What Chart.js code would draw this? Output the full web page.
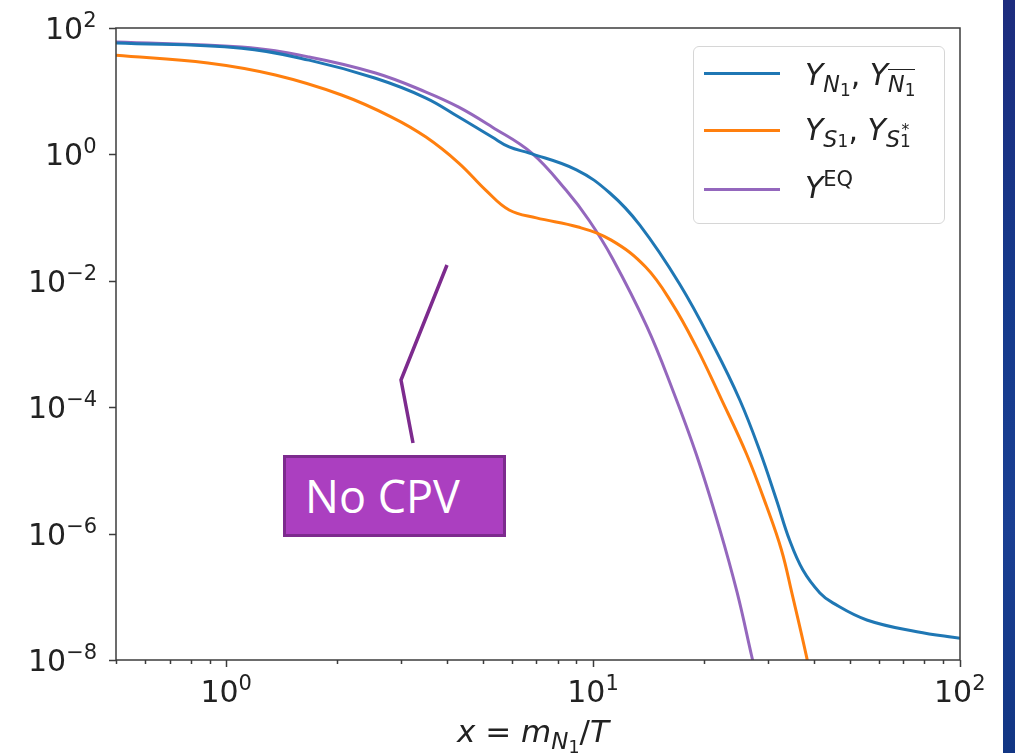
<!DOCTYPE html>
<html>
<head>
<meta charset="utf-8">
<script src="https://cdn.jsdelivr.net/npm/chart.js@4"></script>
<style>
    body { margin: 0; background: #fff; }
    #wrap { position: relative; width: 1015px; height: 753px; overflow: hidden; background: #fff; }
    #strip { position: absolute; left: 1003px; top: 0; width: 12px; height: 753px;
        background: linear-gradient(180deg, #1d2c7e 0%, #153a8c 40%, #1a3f93 70%, #123684 100%); }
    canvas { position: absolute; left: 0; top: 0; }
    #legend { position: absolute; left: 693px; top: 46px; width: 252px; height: 178px;
        border: 1.5px solid #d6d6d6; border-radius: 6px; background: rgba(255,255,255,0.85); box-sizing: border-box; }
    .swatch { position: absolute; left: 704px; width: 76px; height: 3px; }
    .txt { position: absolute; font-family: "DejaVu Sans"; font-size: 30px; line-height: 36px;
        color: #222; white-space: nowrap; }
    .txt i { font-style: italic; }
    .txt sub { font-size: 74%; vertical-align: -0.3em; line-height: 0; }
    .txt sub sub { font-size: 76%; vertical-align: -0.25em; }
    .txt sup { font-size: 70%; vertical-align: 12px; line-height: 0; }
    .ov { border-top: 1.5px solid #222; padding-top: 1px; }
    .stack { display: inline-block; position: relative; width: 0.5em; }
    .stack .s1 { position: absolute; left: 0; top: -0.35em; font-size: 76%; }
    .stack .s2 { position: absolute; left: 0.1em; top: -1.05em; font-size: 70%; }
    .tick { position: absolute; font-family: "DejaVu Sans"; font-size: 30px; line-height: 36px; color: #222; white-space: nowrap; }
    .tick sup { font-size: 21px; vertical-align: 12px; line-height: 0; }
    #nocpv { position: absolute; left: 283px; top: 455px; width: 223px; height: 82px; box-sizing: border-box;
        background: #ab3fc0; border: 3px solid #7d2b8e; color: #fff; font-family: "Open Sans";
        font-size: 45px; line-height: 76px; padding-left: 19px; }
    svg { position: absolute; left: 0; top: 0; }
</style>
</head>
<body>
<div id="wrap">
    <canvas id="chart" width="1003" height="753"></canvas>
    <div id="strip"></div>
    <div id="legend"></div>
    <div class="swatch" style="top:72px;background:#1f77b4"></div>
    <div class="swatch" style="top:129px;background:#ff7f0e"></div>
    <div class="swatch" style="top:188px;background:#9467bd"></div>
    <div class="txt" style="left:805px;top:57px"><i>Y</i><sub><i>N</i><sub>1</sub></sub>, <i>Y</i><sub><span class="ov"><i>N</i><sub>1</sub></span></sub></div>
    <div class="txt" style="left:805px;top:112px"><i>Y</i><sub><i>S</i><span class="stack"><span class="s1">1</span></span></sub>, <i>Y</i><sub><i>S</i><span class="stack"><span class="s1">1</span><span class="s2">*</span></span></sub></div>
    <div class="txt" style="left:805px;top:170px"><i>Y</i><sup>EQ</sup></div>
    <div class="txt" style="left:457px;top:713px;font-size:31px"><i>x</i> = <i>m</i><sub><i>N</i><sub>1</sub></sub>/<i>T</i></div>
    <div id="ticks"></div>
    <svg width="1015" height="753"><polyline points="447,265 401,380 413,443" fill="none" stroke="#7d2b8e" stroke-width="3.5"/></svg>
    <div id="nocpv">No CPV</div>
</div>
<script>
// curve data
let blueX = [0.5, 1.1, 1.68, 2.55, 3.5, 4.3, 5.3, 5.9, 6.7, 9.0, 11.1, 13.4, 17.2, 21.4, 25.1, 28.4, 31.6, 34.3, 37.3, 41.5, 45.0, 55.7, 76.3, 100];
let blueY = [58, 48, 31, 16, 7.8, 3.9, 1.88, 1.31, 1.05, 0.57, 0.245, 0.076, 0.0089, 8.8e-4, 1.3e-4, 2.1e-5, 3.4e-6, 7.9e-7, 2.65e-7, 1.15e-7, 8.0e-8, 4.3e-8, 2.8e-8, 2.2e-8];

let orangeX = [0.5, 0.89, 1.36, 2.06, 2.82, 3.5, 4.3, 5.1, 5.9, 7.0, 9.1, 11.2, 13.9, 16.4, 19.1, 22.3, 26.2, 29.7, 32.6, 34.8, 38.2, 39.5];
let orangeY = [37, 27.9, 18.0, 8.7, 3.9, 1.88, 0.73, 0.27, 0.132, 0.099, 0.071, 0.044, 0.0165, 4.4e-3, 9.0e-4, 1.38e-4, 1.8e-5, 2.7e-6, 5.5e-7, 1.15e-7, 1.1e-8, 4e-9];

let purpleX = [0.5, 1.1, 1.68, 2.55, 3.5, 4.3, 5.3, 6.8, 8.44, 9.75, 11.27, 14.0, 16.4, 19.1, 22.1, 24.7, 27.0, 28.2];
let purpleY = [60, 50, 34.8, 19.4, 9.7, 5.6, 2.72, 1.05, 0.27, 0.09, 0.023, 1.9e-3, 2.0e-4, 1.8e-5, 1.2e-6, 1.15e-7, 1.2e-8, 4e-9];

let xTicks = [1, 10, 100];
let yTicks = [1e-8, 1e-6, 1e-4, 1e-2, 1, 100];

function expOf(v) {
    return String(Math.round(Math.log10(v))).replace("-", "\u2212");
}

function pts(xs, ys) {
    return xs.map((x, i) => ({ x: x, y: ys[i] }));
}

// frame + tick marks
let framePlugin = {
    id: "frame",
    afterDraw(chart) {
        let c = chart.ctx, a = chart.chartArea;
        let xs = chart.scales.x, ys = chart.scales.y;
        c.save();
        c.strokeStyle = "#3c3c3c";
        c.lineWidth = 1.5;
        c.strokeRect(a.left, a.top, a.right - a.left, a.bottom - a.top);
        c.beginPath();
        for (let d = -1; d <= 2; d++) {
            for (let k = 1; k <= 9; k++) {
                let v = k * Math.pow(10, d);
                if (v < 0.5 || v > 100) continue;
                let px = Math.round(xs.getPixelForValue(v)) + 0.5;
                let len = k === 1 ? 7 : 4;
                c.moveTo(px, a.bottom);
                c.lineTo(px, a.bottom + len);
            }
        }
        yTicks.forEach(v => {
            let py = Math.round(ys.getPixelForValue(v)) + 0.5;
            c.moveTo(a.left, py);
            c.lineTo(a.left - 7, py);
        });
        c.stroke();
        c.restore();
    }
};

let ctx = document.getElementById("chart").getContext("2d");

let chart = new Chart(ctx, {
    type: "line",
    data: {
        datasets: [
            { label: "Y_N1", data: pts(blueX, blueY), borderColor: "#1f77b4", tension: 0.4 },
            { label: "Y_S1", data: pts(orangeX, orangeY), borderColor: "#ff7f0e", tension: 0.4 },
            { label: "Y_EQ", data: pts(purpleX, purpleY), borderColor: "#9467bd", tension: 0.4 }
        ]
    },
    options: {
        responsive: false,
        animation: false,
        events: [],
        layout: { padding: { top: 28, right: 43, left: 0, bottom: 0 } },
        elements: {
            point: { radius: 0 },
            line: { borderWidth: 3 }
        },
        plugins: { legend: { display: false }, tooltip: { enabled: false } },
        scales: {
            x: {
                type: "logarithmic",
                min: 0.5,
                max: 100,
                grid: { display: false },
                border: { display: false },
                ticks: { display: false },
                afterFit: s => { s.height = 93; }
            },
            y: {
                type: "logarithmic",
                min: 1e-8,
                max: 100,
                grid: { display: false },
                border: { display: false },
                ticks: { display: false },
                afterFit: s => { s.width = 116; }
            }
        }
    },
    plugins: [framePlugin]
});

// tick labels as text, placed through the scales
let tickBox = document.getElementById("ticks");
xTicks.forEach(v => {
    let el = document.createElement("div");
    el.className = "tick";
    el.innerHTML = "10<sup>" + expOf(v) + "</sup>";
    tickBox.appendChild(el);
    el.style.left = (chart.scales.x.getPixelForValue(v) - el.offsetWidth / 2) + "px";
    el.style.top = "674px";
});
yTicks.forEach(v => {
    let el = document.createElement("div");
    el.className = "tick";
    el.innerHTML = "10<sup>" + expOf(v) + "</sup>";
    tickBox.appendChild(el);
    el.style.left = (97 - el.offsetWidth) + "px";
    el.style.top = (chart.scales.y.getPixelForValue(v) - 17) + "px";
});
</script>
</body>
</html>
